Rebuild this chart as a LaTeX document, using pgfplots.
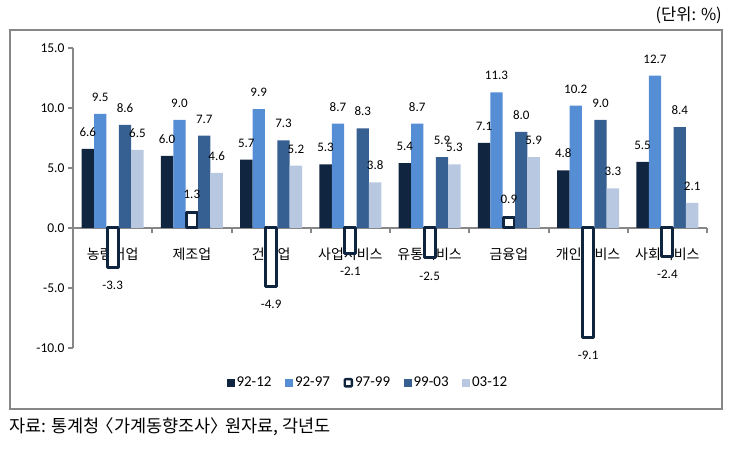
\documentclass[border=0pt]{standalone}
\usepackage{fontspec}
\usepackage{pgfplots}
\pgfplotsset{compat=1.18}
\setmainfont{Noto Sans CJK KR}
\newfontfamily\numfont{Carlito}
\definecolor{cA}{HTML}{10253F}
\definecolor{cB}{HTML}{558ED5}
\definecolor{cC}{HTML}{0F243E}
\definecolor{cD}{HTML}{376092}
\definecolor{cE}{HTML}{B9C8E1}
\definecolor{axgray}{HTML}{878787}
\pgfplotsset{sqleg/.style={legend image code/.code={\fill[##1] (0pt,-4pt) rectangle (8pt,4pt);}},
  sqlegH/.style={legend image code/.code={\draw[draw=cC, fill=white, line width=2.4pt, rounded corners=0.8pt] (1pt,-3.6pt) rectangle (8.2pt,3.6pt);}}}
\begin{document}
\begin{tikzpicture}
\begin{axis}[
 set layers,
 at={(73pt,102pt)}, anchor=south west,
 scale only axis, width=634pt, height=300pt,
 xmin=-0.5, xmax=7.5, ymin=-10, ymax=15,
 axis x line*=middle, axis y line*=left,
 axis line style={color=axgray, line width=2.4pt},
 ytick={-10,-5,0,5,10,15},
 yticklabels={-10.0,-5.0,0.0,5.0,10.0,15.0},
 yticklabel style={font=\numfont\fontsize{13.5}{15}\selectfont},
 xtick={0,...,7},
 xticklabels={농림어업,제조업,건설업,사업서비스,유통서비스,금융업,개인서비스,사회서비스},
 xticklabel style={font=\fontsize{14}{16}\selectfont, yshift=-11pt},
 minor xtick={-0.5,0.5,...,7.5},
 tick align=outside,
 major tick length=5pt, minor tick length=5pt,
 tick style={color=axgray, line width=2pt},
 major x tick style={draw=none},
 ybar, bar width=12.4pt,
 nodes near coords={\pgfmathprintnumber[fixed,fixed zerofill,precision=1,assume math mode=true]{\pgfplotspointmeta}},
 nodes near coords align={vertical},
 every node near coord/.append style={font=\numfont\fontsize{13}{15}\selectfont, text=black, inner ysep=12.2pt, inner xsep=0pt},
 legend style={at={(0.465,-0.116)}, anchor=center, draw=none, fill=none, legend columns=5,
   font=\numfont\fontsize{15}{17}\selectfont, inner sep=0pt,
   nodes={inner xsep=2pt},
   /tikz/every even column/.append style={column sep=11.5pt}},
 legend cell align=left,
]
\addplot[fill=cA, draw=none, bar shift=-24.8pt, sqleg] coordinates {(0,6.6)(1,6.0)(2,5.7)(3,5.3)(4,5.4)(5,7.1)(6,4.8)(7,5.5)};
\addplot[fill=cB, draw=none, bar shift=-12.4pt, sqleg] coordinates {(0,9.5)(1,9.0)(2,9.9)(3,8.7)(4,8.7)(5,11.3)(6,10.2)(7,12.7)};
\addplot[fill=white, draw=cC, line width=3pt, line join=round, bar width=11pt, bar shift=0pt, sqlegH] coordinates {(0,-3.3)(1,1.3)(2,-4.9)(3,-2.1)(4,-2.5)(5,0.9)(6,-9.1)(7,-2.4)};
\addplot[fill=cD, draw=none, bar shift=12.4pt, sqleg] coordinates {(0,8.6)(1,7.7)(2,7.3)(3,8.3)(4,5.9)(5,8.0)(6,9.0)(7,8.4)};
\addplot[fill=cE, draw=none, bar shift=24.8pt, sqleg] coordinates {(0,6.5)(1,4.6)(2,5.2)(3,3.8)(4,5.3)(5,5.9)(6,3.3)(7,2.1)};
\legend{92-12,92-97,97-99,99-03,03-12}
\end{axis}
\path (0pt,0pt) rectangle (733pt,450pt);
\draw[color=axgray, line width=2pt] (10pt,41pt) rectangle (722pt,420pt);
\node[anchor=east, font=\fontsize{16.5}{18}\selectfont, inner sep=0pt] at (722pt,435pt) {(단위: \%)};
\node[anchor=west, font=\fontsize{17.5}{19}\selectfont, inner sep=0pt] at (9pt,23pt) {자료: 통계청 \hspace{-0.4em}〈가계동향조사〉\hspace{-0.4em} 원자료, 각년도};
\end{tikzpicture}
\end{document}
